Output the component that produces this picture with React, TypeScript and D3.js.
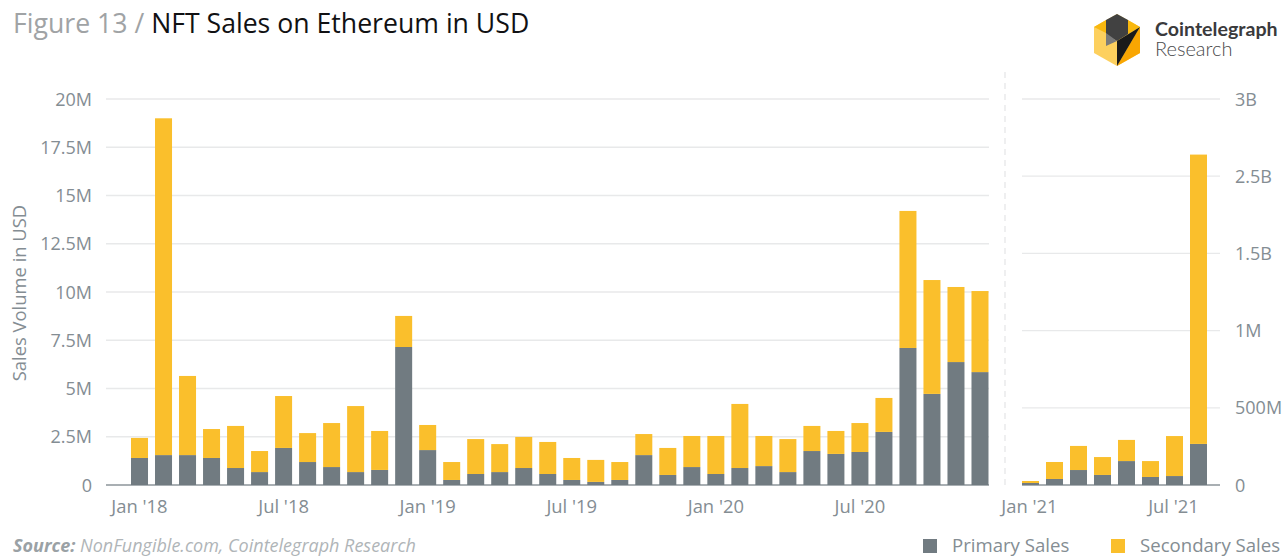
import React from "react";
import * as d3 from "d3";

const W = 1282, H = 556;
const monthsA = d3.range(36).map((i) => i);
const primaryA = [1.4,1.55,1.55,1.4,.88,.67,1.92,1.19,.93,.67,.78,7.15,1.81,.26,.57,.67,.88,.57,.26,.16,.26,1.55,.52,.93,.57,.88,.98,.67,1.76,1.61,1.71,2.75,7.1,4.72,6.37,5.85];
const secondaryA = [1.04,17.45,4.1,1.5,2.18,1.09,2.69,1.5,2.28,3.42,2.02,1.61,1.3,.93,1.81,1.45,1.61,1.66,1.14,1.14,.93,1.09,1.4,1.61,1.97,3.32,1.56,1.71,1.3,1.19,1.5,1.76,7.1,5.9,3.89,4.2];
const monthsB = d3.range(8).map((i) => i);
const primaryB = [13,39,97,65,155,52,58,266];
const secondaryB = [13,110,156,116,137,103,259,2374];
const leftTicks = [0,2.5,5,7.5,10,12.5,15,17.5,20];
const leftLabels = ["0","2.5M","5M","7.5M","10M","12.5M","15M","17.5M","20M"];
const rightTicks = [0,500,1000,1500,2500,3000];
const rightLabels = ["0","500M","1M","1.5B","2.5B","3B"];
const labelsA: [number,string][] = [[0,"Jan '18"],[6,"Jul '18"],[12,"Jan '19"],[18,"Jul '19"],[24,"Jan '20"],[30,"Jul '20"]];
const labelsB: [number,string][] = [[0,"Jan '21"],[6,"Jul '21"]];

const GREY = "#717b81", YELLOW = "#fabf2c", TXT = "#848d93", GRID = "#e8e9ea";
const FONT = "'Open Sans', sans-serif";

const y0 = 485, yTop = 99;
const yL = d3.scaleLinear().domain([0,20]).range([y0,yTop]);
const stepR = (y0 - yTop) / 5;
const yR = d3.scaleLinear().domain(rightTicks).range(rightTicks.map((_, i) => y0 - i * stepR));
const xA = d3.scaleBand<number>().domain(monthsA).range([127.5,992]).paddingInner(7/24).paddingOuter(3.5/24);
const xB = d3.scaleBand<number>().domain(monthsB).range([1018.5,1210.5]).paddingInner(7/24).paddingOuter(3.5/24);

function stackOf(p: number[], s: number[]) {
  const rows = p.map((v,i)=>({primary:v,secondary:s[i]}));
  return d3.stack<any>().keys(["primary","secondary"])(rows);
}

function Bars({x,y,p,s,keys}:{x:any;y:any;p:number[];s:number[];keys:number[]}) {
  const st = stackOf(p,s);
  return <g>{st.map((layer,li)=>layer.map((d,i)=>(
    <rect key={li+"-"+i} x={x(keys[i])} width={x.bandwidth()} y={y(d[1])} height={y(d[0])-y(d[1])} fill={li===0?GREY:YELLOW}/>
  )))}</g>;
}

export default function App() {
  return (
    <svg width={W} height={H} style={{position:"absolute",left:0,top:0,background:"#fff",fontFamily:FONT}}>
      <text x={13} y={33} fontSize={26.65} fill="#a0a3a5">Figure 13 / <tspan fill="#111113">NFT Sales on Ethereum in USD</tspan></text>

      {leftTicks.map((t,i)=>(
        <g key={t}>
          {t>0 && <line x1={106} x2={989} y1={yL(t)} y2={yL(t)} stroke={GRID} strokeWidth={1.3}/>}
          <text x={92} y={yL(t)+6.5} fontSize={18} textAnchor="end" fill={TXT}>{leftLabels[i]}</text>
        </g>
      ))}
      {rightTicks.map((t,i)=>(
        <g key={t}>
          {t>0 && <line x1={1022} x2={1220} y1={yR(t)} y2={yR(t)} stroke={GRID} strokeWidth={1.3}/>}
          <text x={1235} y={yR(t)+6.5} fontSize={18} fill={TXT}>{rightLabels[i]}</text>
        </g>
      ))}
      <line x1={1005} x2={1005} y1={72} y2={490} stroke="#e6e7e8" strokeWidth={1.3} strokeDasharray="6 5"/>
      <text transform={`translate(26,293) rotate(-90)`} fontSize={18.4} textAnchor="middle" fill={TXT}>Sales Volume in USD</text>

      <Bars x={xA} y={yL} p={primaryA} s={secondaryA} keys={monthsA}/>
      <Bars x={xB} y={yR} p={primaryB} s={secondaryB} keys={monthsB}/>
      <line x1={106} x2={989} y1={y0} y2={y0} stroke={GREY} strokeOpacity={0.8} strokeWidth={1.3}/>
      <line x1={1022} x2={1220} y1={y0} y2={y0} stroke={GREY} strokeOpacity={0.8} strokeWidth={1.3}/>

      {labelsA.map(([i,l])=>(
        <text key={l} x={xA(i)!+xA.bandwidth()/2} y={513} fontSize={18.4} textAnchor="middle" fill={TXT}>{l}</text>
      ))}
      {labelsB.map(([i,l])=>(
        <text key={l} x={xB(i)!+xB.bandwidth()/2-1} y={513} fontSize={18.4} textAnchor="middle" fill={TXT}>{l}</text>
      ))}

      <text x={13} y={552} fontSize={18} fontStyle="italic" fill="#b0b5b8"><tspan fontWeight={700} fill="#9aa1a5">Source:</tspan> NonFungible.com, Cointelegraph Research</text>

      <rect x={923} y={539} width={14} height={14} fill={GREY}/>
      <text x={952} y={552} fontSize={18.6} fill={TXT}>Primary Sales</text>
      <rect x={1111} y={539} width={14} height={14} fill={YELLOW}/>
      <text x={1140} y={552} fontSize={18.6} fill={TXT}>Secondary Sales</text>

      <g>
        <polygon points="1117,14 1140,27 1140,53 1117,66 1094,53 1094,27" fill="#fdd05e"/>
        <polygon points="1094,27 1106,20 1106,33" fill="#f9b80e"/>
        <polygon points="1128,20 1140,27 1128,34" fill="#f9b80e"/>
        <polygon points="1117,66 1140,53 1140,27" fill="#f9a602"/>
        <polygon points="1106,20 1117,14 1128,20 1128,34 1117,41 1106,35" fill="#414141"/>
        <polygon points="1106,33 1117,41 1106,46" fill="#7a7a7a"/>
        <polygon points="1117,66 1117,41 1140,27" fill="#1a1a1a"/>
      </g>
      <text x={1155} y={36} fontSize={19.6} fontWeight={700} fill="#3a3a3c" fontFamily="Lato, sans-serif">Cointelegraph</text>
      <text x={1155} y={56} fontSize={20} fontWeight={300} fill="#4a4a4c" fontFamily="Lato, sans-serif">Research</text>
    </svg>
  );
}
